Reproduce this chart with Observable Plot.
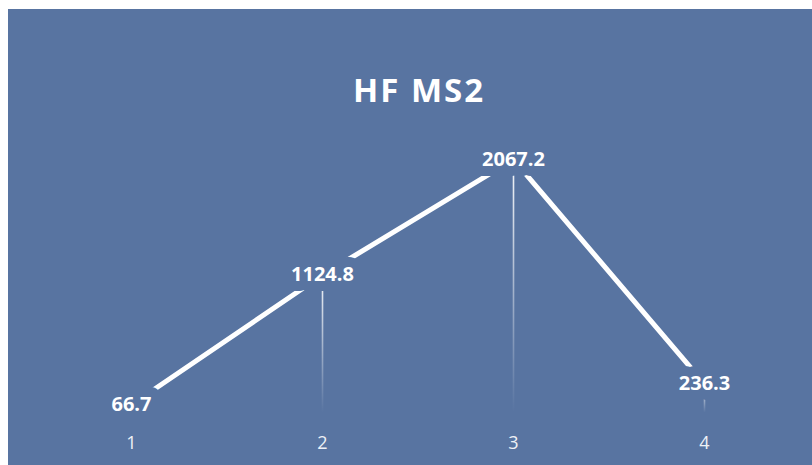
<!DOCTYPE html>
<html>
<head>
<meta charset="utf-8">
<script src="https://cdn.jsdelivr.net/npm/d3@7"></script>
<script src="https://cdn.jsdelivr.net/npm/@observablehq/plot@0.6"></script>
<style>
  html, body { margin: 0; padding: 0; background: #ffffff; }
  #wrap { position: absolute; left: 8px; top: 9px; width: 804px; height: 456px; background: #5874A1; overflow: hidden; }
  #title { position: absolute; left: 9px; width: 804px; top: 64px; text-align: center; font-family: "Open Sans", sans-serif; font-weight: bold; font-size: 33px; line-height: 33px; letter-spacing: 2px; color: #ffffff; }
  #chart { position: absolute; left: 0; top: 92px; }
</style>
</head>
<body>
<div id="wrap">
  <div id="title"></div>
  <div id="chart"></div>
</div>
<script>
const titleText = "HF MS2";
const categories = [1, 2, 3, 4];
const values = [66.7, 1124.8, 2067.2, 236.3];
const valueLabels = ["66.7", "1124.8", "2067.2", "236.3"];
const tickLabels = ["1", "2", "3", "4"];
const bg = "#5874A1";

document.getElementById("title").textContent = titleText;

const data = categories.map((c, i) => ({cat: c, value: values[i], label: valueLabels[i]}));

const plot = Plot.plot({
  width: 804,
  height: 364,
  marginLeft: 27,
  marginRight: 13,
  marginTop: 5,
  marginBottom: 52.6,
  style: {background: "transparent", color: "#eef1f6", fontFamily: "Open Sans, sans-serif", fontSize: "18px"},
  x: {type: "point", domain: categories, padding: 0.5, label: null, tickSize: 0, tickPadding: 23, tickFormat: (d, i) => tickLabels[categories.indexOf(d)]},
  y: {domain: [0, 2500], axis: null},
  marks: [
    Plot.ruleX(data, {x: "cat", y1: 0, y2: "value", stroke: "white", strokeWidth: 1.6}),
    Plot.line(data, {x: "cat", y: "value", stroke: "white", strokeWidth: 5}),
    Plot.text(data, {x: "cat", y: "value", text: "label", fill: "white", stroke: bg, strokeWidth: 20, strokeLinejoin: "round", fontWeight: "bold", fontSize: 20})
  ]
});
document.getElementById("chart").appendChild(plot);

// fade each drop line toward the baseline
const svg = plot.tagName.toLowerCase() === "svg" ? plot : plot.querySelector("svg");
const ns = "http://www.w3.org/2000/svg";
const defs = document.createElementNS(ns, "defs");
svg.insertBefore(defs, svg.firstChild);
svg.querySelectorAll("g[aria-label='rule'] line").forEach((ln, i) => {
  const y1 = +ln.getAttribute("y1"), y2 = +ln.getAttribute("y2");
  const x = +ln.getAttribute("x1");
  const g = document.createElementNS(ns, "linearGradient");
  g.setAttribute("id", "fade" + i);
  g.setAttribute("gradientUnits", "userSpaceOnUse");
  g.setAttribute("x1", x); g.setAttribute("x2", x);
  g.setAttribute("y1", Math.min(y1, y2)); g.setAttribute("y2", Math.max(y1, y2));
  const s1 = document.createElementNS(ns, "stop");
  s1.setAttribute("offset", "0"); s1.setAttribute("stop-color", "#ffffff"); s1.setAttribute("stop-opacity", "0.95");
  const s2 = document.createElementNS(ns, "stop");
  s2.setAttribute("offset", "1"); s2.setAttribute("stop-color", "#ffffff"); s2.setAttribute("stop-opacity", "0");
  g.appendChild(s1); g.appendChild(s2);
  defs.appendChild(g);
  ln.setAttribute("stroke", "url(#fade" + i + ")");
});
svg.querySelectorAll("g[aria-label='text'] text").forEach(t => t.setAttribute("paint-order", "stroke"));
</script>
</body>
</html>
